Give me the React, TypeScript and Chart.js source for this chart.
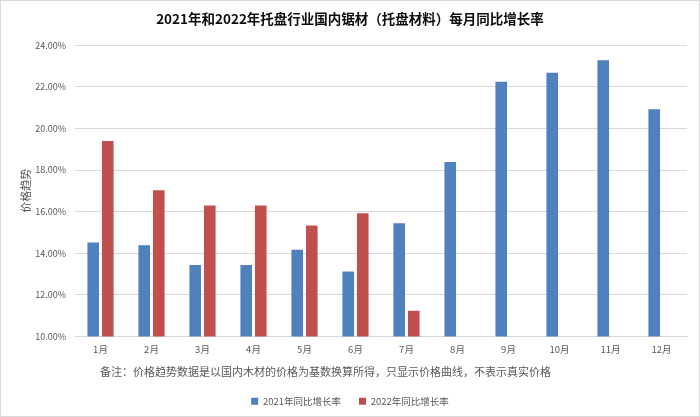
import React, { useEffect, useRef } from "react";
import { Chart, registerables } from "chart.js";

Chart.register(...registerables);

const months = ["1月", "2月", "3月", "4月", "5月", "6月", "7月", "8月", "9月", "10月", "11月", "12月"];
const growth2021 = [14.52, 14.39, 13.44, 13.44, 14.17, 13.12, 15.44, 18.39, 22.24, 22.67, 23.28, 20.92];
const growth2022 = [19.39, 17.03, 16.29, 16.29, 15.33, 15.92, 11.24, null, null, null, null, null];

const chartTitle = "2021年和2022年托盘行业国内锯材（托盘材料）每月同比增长率";
const yTitle = "价格趋势";
const noteText = "备注：价格趋势数据是以国内木材的价格为基数换算所得，只显示价格曲线，不表示真实价格";

const FONT = "'Noto Sans CJK SC', 'Noto Sans', sans-serif";
const GREY = "#595959";

// draws the remark line under the month labels
const notePlugin = {
  id: "note",
  afterDraw(chart: any) {
    const { ctx, chartArea } = chart;
    ctx.save();
    ctx.font = `11px ${FONT}`;
    ctx.fillStyle = GREY;
    ctx.textAlign = "left";
    ctx.textBaseline = "middle";
    ctx.fillText(noteText, chartArea.left + 25, chartArea.bottom + 35);
    ctx.restore();
  },
};

const App = () => {
  const canvasRef = useRef<HTMLCanvasElement>(null);
  const chartRef = useRef<any>(null);

  useEffect(() => {
    if (!canvasRef.current) return;
    if (chartRef.current) chartRef.current.destroy();

    chartRef.current = new Chart(canvasRef.current, {
      type: "bar",
      data: {
        labels: months,
        datasets: [
          {
            label: "2021年同比增长率",
            data: growth2021,
            backgroundColor: "#4F81BD",
          },
          {
            label: "2022年同比增长率",
            data: growth2022,
            backgroundColor: "#C0504D",
          },
        ],
      },
      options: {
        animation: false,
        responsive: true,
        maintainAspectRatio: false,
        categoryPercentage: 0.57,
        barPercentage: 0.8,
        layout: { padding: 0 },
        plugins: {
          title: {
            display: true,
            text: chartTitle,
            color: "#0d0d0d",
            font: { family: FONT, size: 13.5, weight: "bold" },
            padding: { top: 10, bottom: 18 },
          },
          legend: {
            position: "bottom",
            labels: {
              color: GREY,
              font: { family: FONT, size: 9.5 },
              boxWidth: 7,
              boxHeight: 7,
              padding: 18,
            },
          },
          tooltip: { enabled: false },
        },
        scales: {
          x: {
            grid: { display: false, drawTicks: false },
            border: { display: true, color: "#D9D9D9" },
            ticks: { color: GREY, font: { family: FONT, size: 9.5 }, padding: 7 },
            afterFit: (scale: any) => {
              scale.height = 42;
            },
          },
          y: {
            min: 10,
            max: 24,
            grid: { color: "#D9D9D9", drawTicks: false },
            border: { display: false },
            ticks: {
              stepSize: 2,
              color: GREY,
              font: { family: FONT, size: 9 },
              padding: 9,
              callback: (v: any) => Number(v).toFixed(2) + "%",
            },
            title: {
              display: true,
              text: yTitle,
              color: GREY,
              font: { family: FONT, size: 11 },
              padding: { top: 18, bottom: 0 },
            },
            afterFit: (scale: any) => {
              scale.width = 74;
            },
          },
          // empty right margin so the legend stays centred on the whole canvas
          yRight: {
            position: "right",
            grid: { display: false },
            border: { display: false },
            ticks: { display: false },
            afterFit: (scale: any) => {
              scale.width = 12;
            },
          },
        },
      },
      plugins: [notePlugin],
    });

    return () => {
      if (chartRef.current) {
        chartRef.current.destroy();
        chartRef.current = null;
      }
    };
  }, []);

  return (
    <div
      style={{
        position: "fixed",
        left: 0,
        top: 0,
        width: 700,
        height: 417,
        boxSizing: "border-box",
        border: "1px solid #D9D9D9",
        background: "#fff",
      }}
    >
      <canvas ref={canvasRef} />
    </div>
  );
};

export default App;
